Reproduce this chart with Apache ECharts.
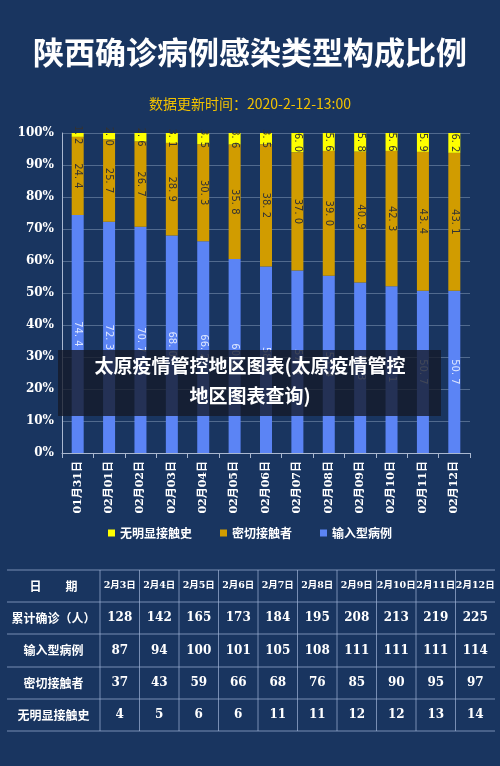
<!DOCTYPE html>
<html><head><meta charset="utf-8">
<script src="https://cdn.jsdelivr.net/npm/echarts@6/dist/echarts.min.js"></script>
<style>html,body{margin:0;padding:0;background:#193560;}#c{width:500px;height:766px;}</style>
</head><body><div id="c"></div>
<script>
var dates = ['01月31日','02月01日','02月02日','02月03日','02月04日','02月05日','02月06日','02月07日','02月08日','02月09日','02月10日','02月11日','02月12日'];
var importArr = [74.4,72.3,70.7,68.0,66.2,60.6,58.3,57.0,55.4,53.3,52.1,50.7,50.7];
var contactArr = [24.4,25.7,26.7,28.9,30.3,35.8,38.2,37.0,39.0,40.9,42.3,43.4,43.1];
var unknownArr = [1.2,2.0,2.6,3.1,3.5,3.6,3.5,6.0,5.6,5.8,5.6,5.9,6.2];

var tableHead = ['日　　期','2月3日','2月4日','2月5日','2月6日','2月7日','2月8日','2月9日','2月10日','2月11日','2月12日'];
var rowNames = ['累计确诊（人）','输入型病例','密切接触者','无明显接触史'];
var totalRow = [128,142,165,173,184,195,208,213,219,225];
var importRow = [87,94,100,101,105,108,111,111,111,114];
var contactRow = [37,43,59,66,68,76,85,90,95,97];
var unknownRow = [4,5,6,6,11,11,12,12,13,14];

var chart = echarts.init(document.getElementById('c'));
var cjk = '"Noto Sans CJK SC", sans-serif';
var serif = '"DejaVu Serif", "Noto Sans CJK SC", serif';

// 表格
var g = [];
var tx0 = 7, tx1 = 495, c0 = 100, ty = [570, 602, 634, 667, 699, 731];
var cw = (tx1 - c0) / 10;
var lineStyle = {stroke: 'rgba(160,180,215,0.7)', lineWidth: 1};
ty.forEach(function (y) {
	g.push({type: 'line', shape: {x1: tx0, y1: y, x2: tx1, y2: y}, style: lineStyle});
});
for (var i = 0; i <= 9; i++) {
	var x = c0 + cw * i;
	g.push({type: 'line', shape: {x1: x, y1: ty[0], x2: x, y2: ty[5]}, style: lineStyle});
}
var rows = [tableHead, [rowNames[0]].concat(totalRow), [rowNames[1]].concat(importRow), [rowNames[2]].concat(contactRow), [rowNames[3]].concat(unknownRow)];
rows.forEach(function (r, ri) {
	var yc = (ty[ri] + ty[ri + 1]) / 2;
	r.forEach(function (v, ci) {
		var xc = ci === 0 ? (tx0 + c0) / 2 : c0 + cw * (ci - 0.5);
		g.push({type: 'text', x: xc, y: yc, style: {text: String(v), fill: '#fff', align: 'center', verticalAlign: 'middle',
			font: 'bold ' + (ci === 0 ? '12px ' + cjk : (ri === 0 ? '9.5px ' : '12px ') + serif)}});
	});
});
// 遮挡横幅
g.push({type: 'rect', shape: {x: 58, y: 350, width: 383, height: 66}, style: {fill: 'rgba(20,25,40,0.78)'}, z: 100});
g.push({type: 'text', x: 250, y: 366, z: 101, style: {text: '太原疫情管控地区图表(太原疫情管控', fill: '#fff', align: 'center', verticalAlign: 'middle', font: 'bold 19px ' + cjk}});
g.push({type: 'text', x: 250, y: 396, z: 101, style: {text: '地区图表查询)', fill: '#fff', align: 'center', verticalAlign: 'middle', font: 'bold 19px ' + cjk}});

function lbl(color) {
	return {show: true, position: 'inside', rotate: -90, color: color, fontSize: 10, fontFamily: 'DejaVu Sans',
		formatter: function (p) { return p.value.toFixed(1).replace('.', '. '); }};
}

chart.setOption({
	backgroundColor: '#193560',
	animation: false,
	title: [{text: '陕西确诊病例感染类型构成比例', left: 'center', top: 32, textStyle: {color: '#fff', fontSize: 31, fontWeight: 'bold', fontFamily: cjk}},
		{text: '数据更新时间：2020-2-12-13:00', left: 'center', top: 92, textStyle: {color: '#f2c200', fontSize: 14, fontWeight: 'normal', fontFamily: cjk}}],
	legend: {bottom: 222, left: 'center', itemWidth: 7, itemHeight: 7, itemGap: 28, icon: 'rect',
		textStyle: {color: '#fff', fontSize: 12, fontWeight: 'bold', fontFamily: cjk},
		data: ['无明显接触史', '密切接触者', '输入型病例']},
	grid: {left: 62, right: 30, top: 133, bottom: 313},
	xAxis: {type: 'category', data: dates, axisLine: {lineStyle: {color: '#aab8d0'}}, axisTick: {show: true, lineStyle: {color: '#aab8d0'}},
		axisLabel: {rotate: 90, color: '#fff', fontSize: 11, fontWeight: 'bold', fontFamily: serif, interval: 0}},
	yAxis: {type: 'value', min: 0, max: 100, interval: 10,
		axisLabel: {formatter: '{value}%', color: '#fff', fontSize: 12, fontWeight: 'bold', fontFamily: serif},
		axisLine: {show: true, lineStyle: {color: '#aab8d0'}},
		splitLine: {lineStyle: {color: 'rgba(150,170,200,0.45)'}}},
	series: [
		{name: '输入型病例', type: 'bar', stack: 's', data: importArr, barWidth: 12, itemStyle: {color: '#5b84f5'}, label: lbl('#dde6ff')},
		{name: '密切接触者', type: 'bar', stack: 's', data: contactArr, itemStyle: {color: '#d19c00'}, label: lbl('#333')},
		{name: '无明显接触史', type: 'bar', stack: 's', data: unknownArr, itemStyle: {color: '#ffff00'}, label: lbl('#333')}
	],
	graphic: g
});
</script></body></html>
